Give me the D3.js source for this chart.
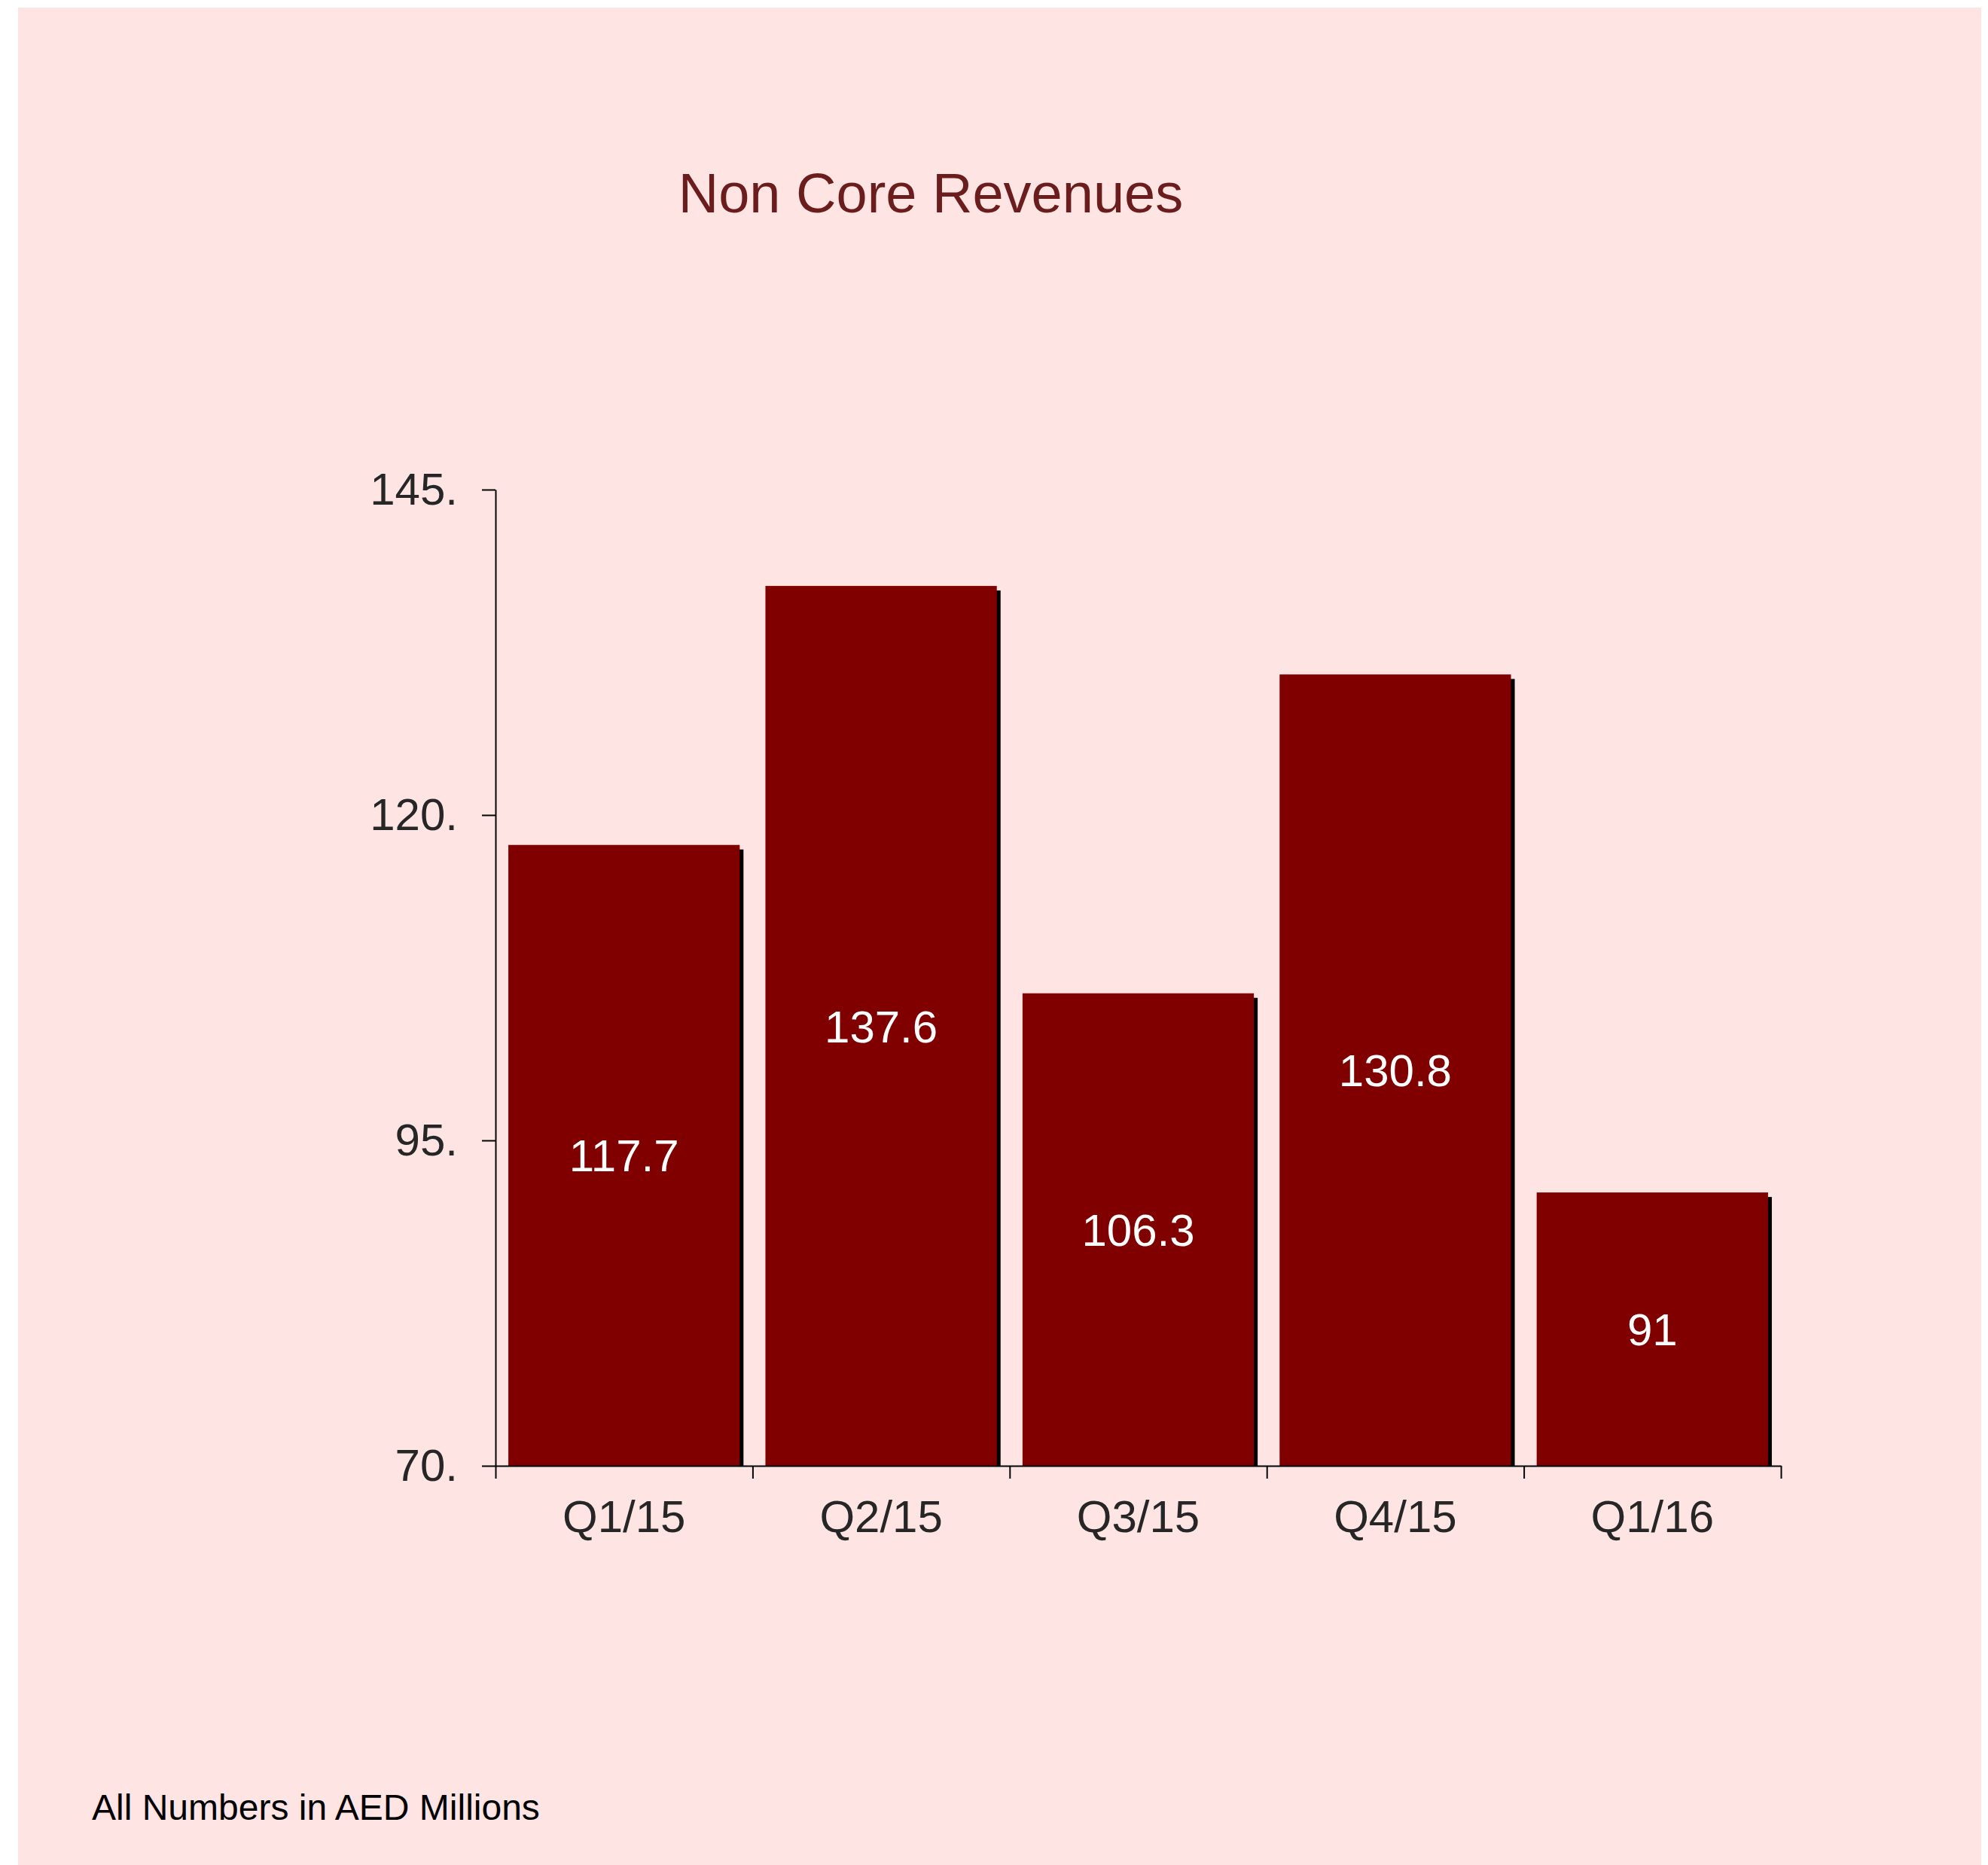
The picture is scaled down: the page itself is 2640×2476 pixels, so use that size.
<!DOCTYPE html>
<html>
<head>
<meta charset="utf-8">
<script src="https://cdn.jsdelivr.net/npm/d3@7"></script>
<style>
	body { margin: 0; background: #fff; }
	text { font-family: "Liberation Sans", Arial, sans-serif; }
</style>
</head>
<body>
<svg id="chart" width="2640" height="2476"></svg>
<script>
'use strict';
// quarters and non core revenue (AED millions)
var quarters = ['Q1/15', 'Q2/15', 'Q3/15', 'Q4/15', 'Q1/16'];
var revenues = [117.7, 137.6, 106.3, 130.8, 91];
var yTicks = [70, 95, 120, 145];

var svg = d3.select('#chart');

// pink panel behind everything
svg.append('rect')
	.attr('x', 24).attr('y', 10)
	.attr('width', 2607).attr('height', 2466)
	.attr('fill', '#FFE4E4');

// plot area edges (don't use "top", it clashes with window.top)
var plotLeft = 658, plotRight = 2365, plotTop = 650, plotBottom = 1946;

var x = d3.scaleBand()
	.domain(quarters)
	.range([plotLeft, plotRight])
	.paddingInner(0.1)
	.paddingOuter(0.05);

// used only for the tick marks between the quarters
var xEdges = d3.scaleLinear().domain([0, quarters.length]).range([plotLeft, plotRight]);

var y = d3.scaleLinear()
	.domain([70, 145])
	.range([plotBottom, plotTop]);

var data = quarters.map(function (q, i) { return { q: q, v: revenues[i] }; });

// drop shadow, offset down and right, cut off at the baseline
svg.append('g').selectAll('rect')
	.data(data)
	.join('rect')
	.attr('x', function (d) { return x(d.q) + 5; })
	.attr('y', function (d) { return y(d.v) + 6; })
	.attr('width', x.bandwidth())
	.attr('height', function (d) { return Math.max(0, plotBottom - y(d.v) - 6); })
	.attr('fill', '#000');

svg.append('g').selectAll('rect')
	.data(data)
	.join('rect')
	.attr('x', function (d) { return x(d.q); })
	.attr('y', function (d) { return y(d.v); })
	.attr('width', x.bandwidth())
	.attr('height', function (d) { return plotBottom - y(d.v); })
	.attr('fill', '#800000');

// value labels in the middle of each bar
svg.append('g').selectAll('text')
	.data(data)
	.join('text')
	.attr('x', function (d) { return x(d.q) + x.bandwidth() / 2; })
	.attr('y', function (d) { return (y(d.v) + plotBottom) / 2; })
	.attr('dy', '0.36em')
	.attr('text-anchor', 'middle')
	.attr('font-size', 60)
	.attr('fill', '#fff')
	.text(function (d) { return d.v; });

// y axis
var yAxis = svg.append('g')
	.attr('transform', 'translate(' + plotLeft + ',0)')
	.call(d3.axisLeft(y)
		.tickValues(yTicks)
		.tickSize(18)
		.tickSizeOuter(0)
		.tickPadding(32)
		.tickFormat(function (d) { return d + '.'; }));
yAxis.selectAll('text').attr('font-size', 60).attr('fill', '#262626').attr('font-family', null).attr('dy', '0.32em');

// x axis line and the ticks between quarters
svg.append('g')
	.attr('transform', 'translate(0,' + plotBottom + ')')
	.call(d3.axisBottom(xEdges)
		.tickValues(d3.range(quarters.length + 1))
		.tickSize(17)
		.tickSizeOuter(0)
		.tickFormat(''));

// quarter labels
var xLabels = svg.append('g')
	.attr('transform', 'translate(0,' + plotBottom + ')')
	.call(d3.axisBottom(x).tickSize(0).tickPadding(45));
xLabels.select('.domain').remove();
xLabels.selectAll('text').attr('font-size', 60).attr('fill', '#262626').attr('font-family', null);

svg.selectAll('.domain, .tick line').attr('stroke', '#000').attr('stroke-width', 2);

// title and footnote
svg.append('text')
	.attr('x', 1236).attr('y', 282)
	.attr('text-anchor', 'middle')
	.attr('font-size', 74)
	.attr('fill', '#6B1D1D')
	.text('Non Core Revenues');

svg.append('text')
	.attr('x', 122).attr('y', 2416)
	.attr('font-size', 48)
	.attr('fill', '#000')
	.text('All Numbers in AED Millions');
</script>
</body>
</html>
